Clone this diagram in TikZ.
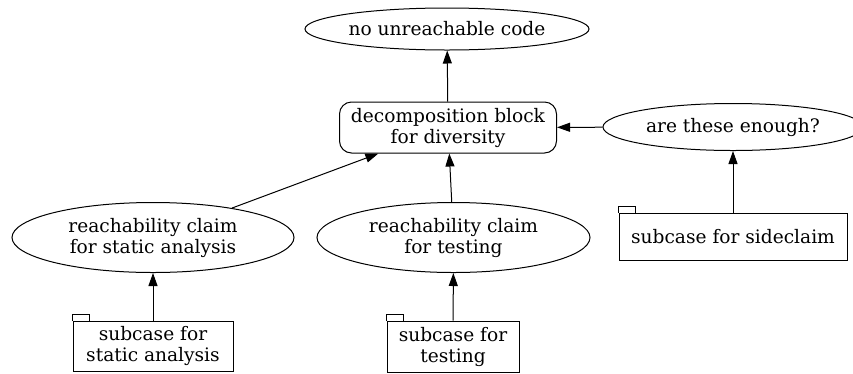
\documentclass[tikz,border=0pt]{standalone}
\usepackage{fontspec}
\setmainfont{DejaVu Serif}
\usetikzlibrary{arrows.meta, shapes.geometric}
\tikzset{
    claim/.style={ellipse,draw,inner sep=0pt,align=center},
    block/.style={rectangle,rounded corners=12pt,draw,inner sep=0pt,align=center},
    subcase/.style={rectangle,draw,inner sep=0pt,align=center,
        append after command={\pgfextra{\draw[line width=1pt]
            (\tikzlastnode.north west) -- ++(0,-6) -- ++(17,0) -- ++(0,6);}}},
    gsn/.style={
        x=1pt, y=-1pt,
        line width=1pt,
        every node/.style={font=\fontsize{18.6}{21}\selectfont},
        every edge/.style={draw,-{Triangle[length=13pt,width=9pt]}},
    }
}

\begin{document}
\begin{tikzpicture}[gsn]
\useasboundingbox (0,0) rectangle (853,373);
\node[claim, minimum width=284pt, minimum height=42pt] (goal) at (447,29) {no unreachable code};
\node[block, minimum width=217pt, minimum height=51pt] (div) at (448,127.5) {decomposition block\\for diversity};
\node[claim, minimum width=260pt, minimum height=47pt] (enough) at (733,127) {are these enough?};
\node[claim, minimum width=282pt, minimum height=70pt] (rs) at (153,237.5) {reachability claim\\for static analysis};
\node[claim, minimum width=273pt, minimum height=70pt] (rt) at (453.5,237.5) {reachability claim\\for testing};
\node[subcase, minimum width=228pt, minimum height=47pt] (sc) at (733,236.5) {subcase for sideclaim};
\node[subcase, minimum width=160pt, minimum height=50pt] (ss) at (153,346) {subcase for\\static analysis};
\node[subcase, minimum width=132pt, minimum height=51pt] (st) at (453,346.5) {subcase for\\testing};
\path
    (div) edge (goal)
    (enough) edge (div)
    (rs) edge (div)
    (rt) edge (div)
    (sc) edge (enough)
    (ss) edge (rs)
    (st) edge (rt)
;
\end{tikzpicture}
\end{document}
